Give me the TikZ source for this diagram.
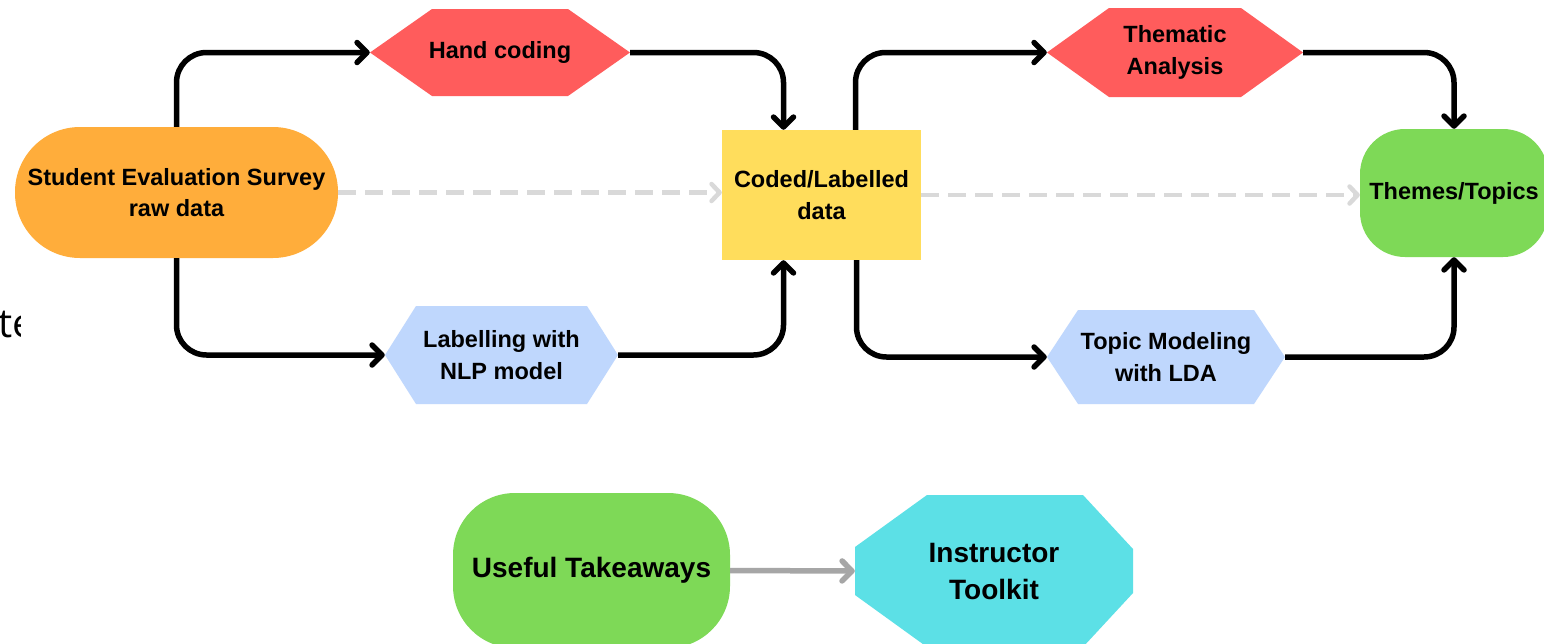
\documentclass[tikz,border=0pt]{standalone}
\usepackage{fontspec}
\setmainfont{Liberation Sans}
\newfontfamily\opensans{Open Sans}
\usetikzlibrary{arrows.meta}
\definecolor{cOrange}{HTML}{FFAD3B}
\definecolor{cRed}{HTML}{FF5C5C}
\definecolor{cBlue}{HTML}{BFD7FD}
\definecolor{cYellow}{HTML}{FFDD5C}
\definecolor{cGreen}{HTML}{7ED957}
\definecolor{cCyan}{HTML}{5CE0E6}
\definecolor{cDash}{HTML}{D9D9D9}
\definecolor{cGrayArrow}{HTML}{A6A6A6}
\tikzset{
  lbl/.style={font=\bfseries\fontsize{23.5}{31.5}\selectfont, align=center, text=black, inner sep=0pt},
  biglbl/.style={font=\bfseries\fontsize{28}{37}\selectfont, align=center, text=black, inner sep=0pt},
  box/.style 2 args={rectangle, minimum width=#1, minimum height=#2},
  hexa/.style 2 args={path picture={\fill[#1]
      ([xshift=#2]path picture bounding box.north west) --
      ([xshift=-#2]path picture bounding box.north east) --
      (path picture bounding box.east) --
      ([xshift=-#2]path picture bounding box.south east) --
      ([xshift=#2]path picture bounding box.south west) --
      (path picture bounding box.west) -- cycle;}},
  flow/.style={draw=black, line width=5.5pt, rounded corners=30pt,
      -{Straight Barb[length=10pt, width=20pt, round]}},
  ghost/.style={draw=cDash, line width=4.5pt, dash pattern=on 18pt off 9pt,
      -{Straight Barb[length=8pt, width=17pt, round]}},
  grayflow/.style={draw=cGrayArrow, line width=5.5pt,
      -{Straight Barb[length=10pt, width=20pt, round]}}
}
\begin{document}
\begin{tikzpicture}[x=1pt,y=-1pt]
\useasboundingbox (0,0) rectangle (1544,643);
\fill[white] (0,0) rectangle (1544,643);

% stray clipped text at left edge
\begin{scope}
\clip (-5,280) rectangle (20,350);
\node[anchor=base west, inner sep=0pt, font=\opensans\fontsize{40}{40}\selectfont] (stray) at (-2,337) {te};
\end{scope}

% nodes
\node[lbl, box={323pt}{131pt}, fill=cOrange, rounded corners=65pt] (stu) at (176.5,192.5)
  {Student Evaluation Survey\\raw data};
\node[lbl, box={260pt}{87pt}, hexa={cRed}{62pt}] (hand) at (500,52.5) {Hand coding};
\node[lbl, box={233pt}{98pt}, hexa={cBlue}{31pt}] (nlp) at (501.5,355) {Labelling with\\NLP model};
\node[lbl, box={199pt}{130pt}, fill=cYellow] (coded) at (821.5,195) {Coded/Labelled\\data};
\node[lbl, box={256pt}{89pt}, hexa={cRed}{62pt}] (them) at (1175,52.5) {Thematic\\Analysis};
\node[lbl, box={238pt}{94pt}, hexa={cBlue}{31pt}] (lda) at (1166,357) {Topic Modeling\\with LDA};
\node[lbl, box={188pt}{128pt}, fill=cGreen, rounded corners=45pt] (topics) at (1454,193) {Themes/Topics};
\node[biglbl, box={277pt}{155pt}, fill=cGreen, rounded corners=62pt] (use) at (591.5,570.5) {Useful Takeaways};
\node[biglbl, box={278pt}{152pt}, path picture={\fill[cCyan]
      ([xshift=72pt]path picture bounding box.north west) --
      ([xshift=-50pt]path picture bounding box.north east) --
      ([yshift=-54pt]path picture bounding box.north east) --
      ([yshift=54pt]path picture bounding box.south east) --
      ([xshift=-50pt]path picture bounding box.south east) --
      ([xshift=72pt]path picture bounding box.south west) --
      ([yshift=52pt]path picture bounding box.south west) --
      ([yshift=-52pt]path picture bounding box.north west) -- cycle;}] (tool) at (994,571) {Instructor\\Toolkit};

% connectors
\draw[ghost] (stu.east) -- (stu.east -| coded.west);
\draw[ghost] (coded.east) -- (coded.east -| topics.west);
\draw[flow] (stu.north) |- (hand.west);
\draw[flow] (hand.east) -| ([xshift=-38pt]coded.north);
\draw[flow] (stu.south) |- (nlp.west);
\draw[flow] (nlp.east) -| ([xshift=-38pt]coded.south);
\draw[flow] ([xshift=34pt]coded.north) |- (them.west);
\draw[flow] (them.east) -| (topics.north);
\draw[flow] ([xshift=35pt]coded.south) |- (lda.west);
\draw[flow] (lda.east) -| (topics.south);
\draw[grayflow] (use.east) -- (tool.west);
\end{tikzpicture}
\end{document}
